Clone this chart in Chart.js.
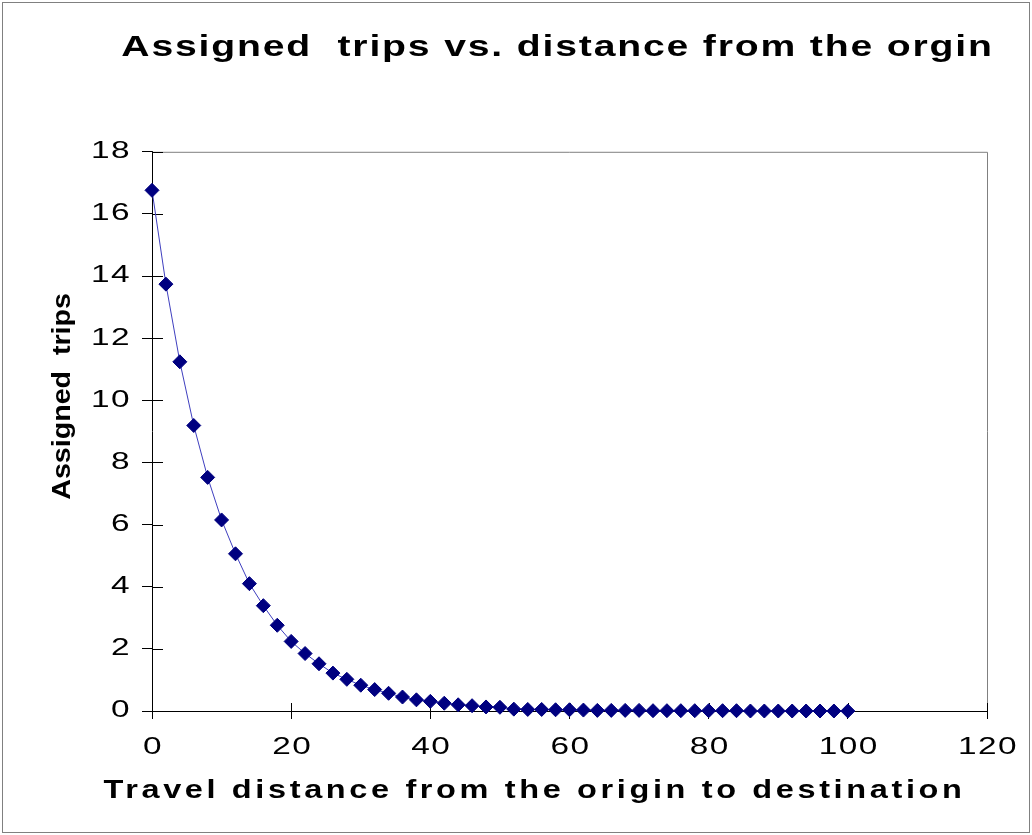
<!DOCTYPE html>
<html>
<head>
<meta charset="utf-8">
<title>Assigned trips vs. distance</title>
<script src="https://cdn.jsdelivr.net/npm/chart.js@4.4.1/dist/chart.umd.min.js"></script>
<style>
  body { margin: 0; background: #fff; }
  #wrap { width: 1032px; height: 835px; position: relative; }
</style>
</head>
<body>
<div id="wrap"><canvas id="tripsChart" width="1032" height="835"></canvas></div>
<script>
// travel distance from the origin (x) and assigned trips (y)
var distances = [0, 2, 4, 6, 8, 10, 12, 14, 16, 18, 20, 22, 24, 26, 28, 30, 32, 34, 36, 38,
                 40, 42, 44, 46, 48, 50, 52, 54, 56, 58, 60, 62, 64, 66, 68, 70, 72, 74, 76, 78,
                 80, 82, 84, 86, 88, 90, 92, 94, 96, 98, 100];
var assignedTrips = [16.76, 13.74, 11.24, 9.19, 7.52, 6.15, 5.06, 4.10, 3.39, 2.76,
                     2.24, 1.85, 1.52, 1.22, 1.02, 0.83, 0.69, 0.57, 0.45, 0.36,
                     0.31, 0.25, 0.20, 0.17, 0.13, 0.12, 0.06, 0.05, 0.05, 0.04,
                     0.04, 0.03, 0.02, 0.02, 0.02, 0.02, 0.01, 0.01, 0.01, 0.01,
                     0.01, 0.01, 0.01, 0.00, 0.00, 0.00, 0.00, 0.00, 0.00, 0.00, 0.00];
var xTicks = { min: 0, max: 120, step: 20 };
var yTicks = { min: 0, max: 18, step: 2 };

var points = distances.map(function (d, i) { return { x: d, y: assignedTrips[i] }; });

//white page with the thin grey frame round it
var frame = {
  id: 'frame',
  beforeDraw: function (chart) {
    var c = chart.ctx;
    c.save();
    c.fillStyle = '#fff';
    c.fillRect(0, 0, chart.width, chart.height);
    c.strokeStyle = '#808080';
    c.lineWidth = 1;
    c.strokeRect(2.5, 2.5, chart.width - 5, chart.height - 5);
    c.restore();
  },
  // grey top/right edges of the plot box and the tick marks inside it
  beforeDatasetsDraw: function (chart) {
    var c = chart.ctx, a = chart.chartArea;
    c.save();
    c.lineWidth = 1;
    c.strokeStyle = '#808080';
    c.beginPath();
    c.moveTo(a.left, a.top + 0.5);
    c.lineTo(a.right + 0.5, a.top + 0.5);
    c.lineTo(a.right + 0.5, a.bottom);
    c.stroke();
    c.strokeStyle = '#000';
    c.beginPath();
    var xs = chart.scales.x, ys = chart.scales.y;
    xs.ticks.forEach(function (t, i) {
      var px = Math.round(xs.getPixelForTick(i)) + 0.5;
      c.moveTo(px, a.bottom);
      c.lineTo(px, a.bottom - 8);
    });
    ys.ticks.forEach(function (t, i) {
      var py = Math.round(ys.getPixelForTick(i)) + 0.5;
      c.moveTo(a.left, py);
      c.lineTo(a.left + 11, py);
    });
    c.stroke();
    c.restore();
  }
};

// the old chart has wide, stretched lettering: widen the glyphs and space them per text block
var spacing = {
  id: 'spacing',
  afterLayout: function (chart) {
    if (chart._spaced) return;
    chart._spaced = true;
    var c = chart.ctx;
    var baseFill = CanvasRenderingContext2D.prototype.fillText;
    function wrap(obj, name, sx, ls, dx, dy) {
      var orig = obj[name];
      obj[name] = function () {
        c.save();
        c.letterSpacing = ls + 'px';
        c.translate(dx, dy);
        c.fillText = function (text, x, y) {
          this.save();
          this.translate(x, y);
          this.scale(sx, 1);
          baseFill.call(this, text, 0, 0);
          this.restore();
        };
        orig.apply(this, arguments);
        delete c.fillText;
        c.restore();
      };
    }
    wrap(chart.titleBlock, 'draw', 1.35, 1.35, 64, 0);
    wrap(chart.scales.x, 'drawLabels', 1.45, 1, 1, 0);
    wrap(chart.scales.y, 'drawLabels', 1.45, 1, 0, 0);
    wrap(chart.scales.x, 'drawTitle', 1.25, 2.9, -35, 0);
    wrap(chart.scales.y, 'drawTitle', 1.1, 0, 0, -35);
  }
};

var ctx = document.getElementById('tripsChart').getContext('2d');
var tripsChart = new Chart(ctx, {
  type: 'scatter',
  data: {
    datasets: [{
      label: 'Assigned trips',
      data: points,
      showLine: true,
      borderColor: '#3f3fbf',
      borderWidth: 1,
      pointStyle: 'rectRot',
      pointRadius: 7,
      pointHoverRadius: 7,
      pointBackgroundColor: '#000080',
      pointBorderColor: '#000080',
      pointBorderWidth: 1,
      clip: false
    }]
  },
  options: {
    responsive: false,
    animation: false,
    layout: { padding: { left: 0, right: 45, top: 0, bottom: 0 } },
    plugins: {
      legend: { display: false },
      tooltip: { enabled: false },
      title: {
        display: true,
        text: 'Assigned  trips vs. distance from the orgin',
        color: '#000',
        font: { family: 'Liberation Sans', size: 29, weight: 'bold' },
        padding: { top: 31, bottom: 86 }
      }
    },
    scales: {
      x: {
        type: 'linear',
        min: xTicks.min,
        max: xTicks.max,
        ticks: {
          stepSize: xTicks.step,
          color: '#000',
          padding: 15,
          font: { family: 'Liberation Sans', size: 23 }
        },
        grid: { drawOnChartArea: false, tickLength: 8, color: '#000' },
        border: { color: '#000', width: 1 },
        title: {
          display: true,
          text: 'Travel distance from the origin to destination',
          color: '#000',
          font: { family: 'Liberation Sans', size: 26, weight: 'bold' },
          padding: { top: 0, bottom: 29 }
        },
        afterFit: function (scale) { scale.height = 124; }
      },
      y: {
        type: 'linear',
        min: yTicks.min,
        max: yTicks.max,
        ticks: {
          stepSize: yTicks.step,
          color: '#000',
          padding: 11,
          font: { family: 'Liberation Sans', size: 23 }
        },
        grid: { drawOnChartArea: false, tickLength: 10, color: '#000' },
        border: { color: '#000', width: 1 },
        title: {
          display: true,
          text: 'Assigned  trips',
          color: '#000',
          font: { family: 'Liberation Sans', size: 26, weight: 'bold' },
          padding: { top: 47, bottom: 0 }
        },
        afterFit: function (scale) { scale.width = 152; }
      }
    }
  },
  plugins: [frame, spacing]
});
</script>
</body>
</html>
